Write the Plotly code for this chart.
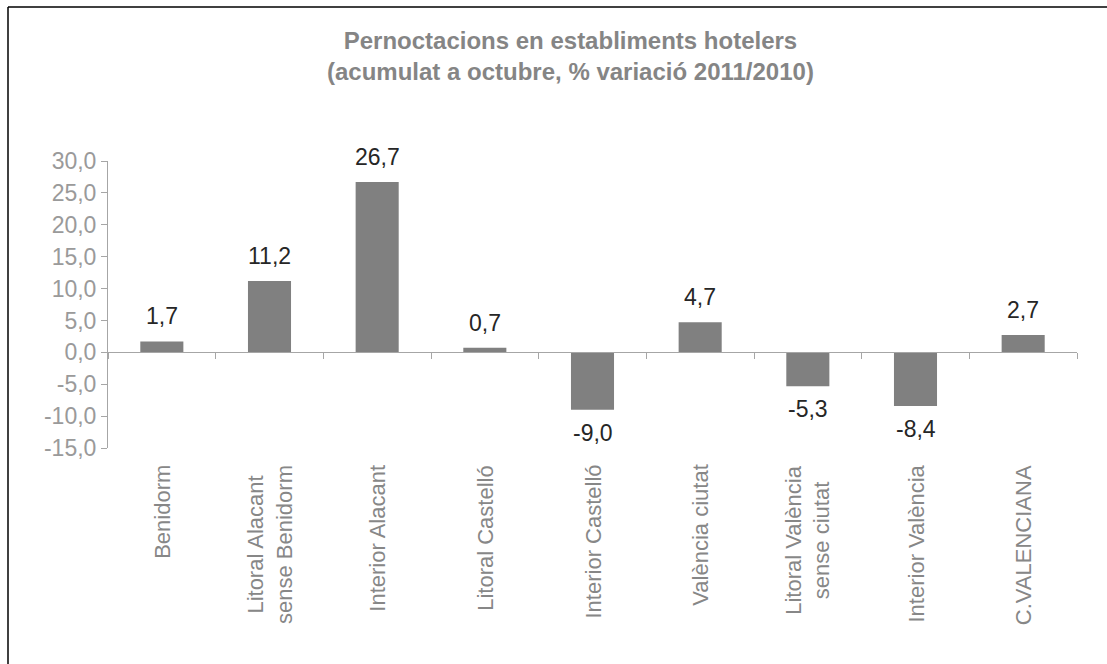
import plotly.graph_objects as go

categories = ["Benidorm", "Litoral Alacant<br>sense Benidorm", "Interior Alacant", "Litoral Castelló",
              "Interior Castelló", "València ciutat", "Litoral València<br>sense ciutat",
              "Interior València", "C.VALENCIANA"]
values = [1.7, 11.2, 26.7, 0.7, -9.0, 4.7, -5.3, -8.4, 2.7]
y_ticks = [30, 25, 20, 15, 10, 5, 0, -5, -10, -15]
title_lines = ["Pernoctacions en establiments hotelers", "(acumulat a octubre, % variació 2011/2010)"]

W, H = 1107, 664
L, R, T, B = 108, 30, 161, 216
ymin, ymax = -15, 30
FONT = "Liberation Sans, Arial, sans-serif"
pw, ph = W - L - R, H - T - B


def fmt(v):
    return f"{v:.1f}".replace(".", ",")


def px_x(p):
    return (p - L) / pw


def px_y(p):
    return (H - B - p) / ph


fig = go.Figure()
fig.add_trace(go.Bar(x=categories, y=values, marker=dict(color="#808080", line=dict(width=0)),
                     width=0.4, hoverinfo="skip", showlegend=False))
fig.add_trace(go.Scatter(x=categories, y=[None] * len(categories), xaxis="x2", yaxis="y",
                         mode="markers", opacity=0, showlegend=False, hoverinfo="skip"))

annotations = []
for c, v in zip(categories, values):
    annotations.append(dict(x=c, y=v, xref="x", yref="y", text=fmt(v), showarrow=False,
                            yanchor="bottom" if v >= 0 else "top", yshift=10 if v >= 0 else -8,
                            font=dict(family=FONT, size=23, color="#262626")))
# category labels, rotated, lines centred
for c in categories:
    annotations.append(dict(x=c, y=px_y(463), xref="x", yref="paper", text=c, showarrow=False,
                            textangle=-90, xanchor="center", yanchor="top", align="center",
                            font=dict(family=FONT, size=22, color="#878787")))
annotations.append(dict(x=px_x(570), y=px_y(56), xref="paper", yref="paper", showarrow=False,
                        text="<b>" + "<br>".join(title_lines) + "</b>",
                        font=dict(family=FONT, size=24, color="#858585"), align="center",
                        xanchor="center", yanchor="middle"))

zero_pos = (0 - ymin) / (ymax - ymin)

fig.update_layout(
    width=W, height=H,
    margin=dict(l=L, r=R, t=T, b=B, pad=0),
    paper_bgcolor="white", plot_bgcolor="white",
    bargap=0.6,
    xaxis=dict(type="category", categoryorder="array", categoryarray=categories,
               range=[-0.5, len(categories) - 0.5], showline=False, showgrid=False, zeroline=False,
               ticks="", showticklabels=False),
    xaxis2=dict(type="category", categoryorder="array", categoryarray=categories, overlaying="x",
                matches="x", anchor="free", position=zero_pos, side="bottom",
                showline=True, linecolor="#a6a6a6", linewidth=1, showgrid=False, zeroline=False,
                ticks="outside", tickson="boundaries", ticklen=6, tickcolor="#a6a6a6",
                showticklabels=False),
    yaxis=dict(range=[ymin, ymax], tickvals=y_ticks, ticktext=[fmt(v) for v in y_ticks],
               showline=True, linecolor="#a6a6a6", linewidth=1, showgrid=False, zeroline=False,
               ticks="outside", ticklen=6, tickcolor="#a6a6a6",
               tickfont=dict(family=FONT, size=23, color="#9a9a9a")),
    annotations=annotations,
    shapes=[
        dict(type="line", xref="paper", yref="paper", x0=px_x(8), x1=px_x(W + 5), y0=px_y(7), y1=px_y(7),
             line=dict(color="#000000", width=1.5), layer="above"),
        dict(type="line", xref="paper", yref="paper", x0=px_x(8), x1=px_x(8), y0=px_y(7), y1=px_y(H + 5),
             line=dict(color="#000000", width=1.5), layer="above"),
    ],
)

fig.write_html("out.html", config={"displayModeBar": False},
               post_script="document.body.style.margin='0';document.body.style.overflow='hidden';")
